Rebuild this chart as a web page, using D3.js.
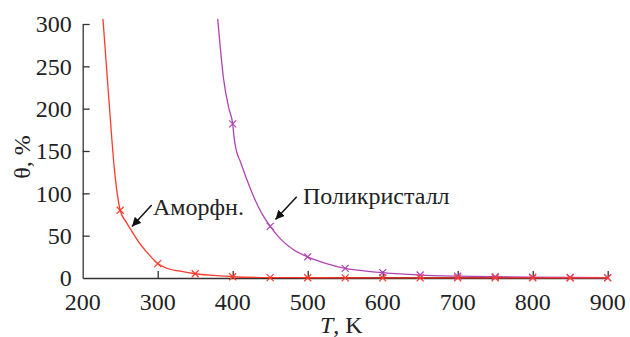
<!DOCTYPE html>
<html><head><meta charset="utf-8">
<script src="https://cdn.jsdelivr.net/npm/d3@7"></script>
</head>
<body style="margin:0;background:#fff"><svg id="c" width="630" height="337"></svg>
<script>
// Tick values
const xTicks = [200,300,400,500,600,700,800,900];
const yTicks = [0,50,100,150,200,250,300];

// Amorphous series: measured markers
const amorphMarkT = [250,300,350,400,450,500,550,600,650,700,750,800,850,900];
const amorphMarkV = [80,17,5,1.5,0.5,0.3,0.2,0.1,0.1,0.1,0.1,0.1,0.1,0.1];
// Amorphous fitted curve
const amorphCurveT = [227,235,242,250,258,265,272,287,300,312,330,350,375,400,450,500,600,700,800,900];
const amorphCurveV = [306,210,131,80,66,56,46,29,17,11.5,8,5,3,1.5,0.5,0.3,0.1,0.1,0.1,0.1];

// Polycrystal series: measured markers
const polyMarkT = [400,450,500,550,600,650,700,750,800,850,900];
const polyMarkV = [182,61,25,11.4,6.3,3.5,2.2,1.5,1,0.6,0.4];
// Polycrystal fitted curve
const polyCurveT = [380,388,395,400,402,405,410,419,428,439,450,465,480,500,525,550,575,600,650,700,750,800,850,900];
const polyCurveV = [306,234,200,182,165,150,138,116,96,76,61,45,34,25,17,11.4,8.5,6.3,3.5,2.2,1.5,1,0.6,0.4];

// Third (black) series near zero
const blackT = [440,900];
const blackV = [0,0];

const labels = [
  {text:"Аморфн.", x:153, y:215, ax1:151.7, ay1:205, ax2:132, ay2:226.5},
  {text:"Поликристалл", x:303, y:204, ax1:296.7, ay1:196.7, ax2:275.5, ay2:219.5}
];

const FONT = "'Liberation Serif'";
const svg = d3.select("#c");
const x = d3.scaleLinear().domain([200,900]).range([82.7,607.7]);
const y = d3.scaleLinear().domain([0,300]).range([278,24]);
const axisColor = "#333";
const fs = 24;

// plain text helper (no anchor/dy/tspan)
function plainText(str, px, py, anchor, italic){
  const t = svg.append("text").attr("x",px).attr("y",py).attr("font-size",fs)
    .attr("fill","#222").attr("font-family",FONT).text(str);
  if(italic) t.attr("font-style","italic");
  const w = t.node().getComputedTextLength();
  if(anchor==="middle") t.attr("x",px-w/2);
  else if(anchor==="end") t.attr("x",px-w);
  return w;
}

// Axes (lines and ticks from d3 axis; labels as plain texts)
const gx = svg.append("g").attr("transform",`translate(0,${y(0)})`)
  .call(d3.axisBottom(x).tickValues(xTicks).tickSize(-7).tickSizeOuter(0).tickFormat(""));
const gy = svg.append("g").attr("transform",`translate(${x(200)},0)`)
  .call(d3.axisLeft(y).tickValues(yTicks).tickSize(-7).tickSizeOuter(0).tickFormat(""));
[gx,gy].forEach(g=>{
  g.select(".domain").attr("stroke",axisColor).attr("stroke-width",1.3);
  g.selectAll(".tick line").attr("stroke",axisColor).attr("stroke-width",1.3);
  g.selectAll(".tick text").remove();
});
gx.selectAll(".tick").filter(d=>d===200).select("line").remove();
gy.selectAll(".tick").filter(d=>d===0).select("line").remove();
const fmt = d3.format("d");
xTicks.forEach(v=>plainText(fmt(v), x(v), 310, "middle"));
yTicks.forEach(v=>plainText(fmt(v), x(200)-11, y(v)+8.2, "end"));

// Black line
const line = d3.line().x(d=>x(d[0])).y(d=>y(d[1]));
svg.append("path").datum(blackT.map((t,i)=>[t,blackV[i]]))
  .attr("d",line).attr("stroke","#222").attr("stroke-width",2).attr("fill","none");

const curve = d3.line().x(d=>x(d[0])).y(d=>y(d[1])).curve(d3.curveMonotoneX);

function series(cT,cV,mT,mV,color){
  svg.append("path").datum(cT.map((t,i)=>[t,cV[i]]))
    .attr("d",curve).attr("stroke",color).attr("stroke-width",1.3).attr("fill","none");
  const s=3.5;
  const g = svg.append("g");
  mT.forEach((t,i)=>{
    const px=x(t), py=y(mV[i]);
    g.append("path").attr("d",`M${px-s},${py-s}L${px+s},${py+s}M${px-s},${py+s}L${px+s},${py-s}`)
      .attr("stroke",color).attr("stroke-width",1.2);
  });
}
series(polyCurveT,polyCurveV,polyMarkT,polyMarkV,"#b244b2");
series(amorphCurveT,amorphCurveV,amorphMarkT,amorphMarkV,"#ff3a2a");

// Annotations
svg.append("defs").append("marker").attr("id","ah").attr("viewBox","0 0 10 10")
  .attr("refX",10).attr("refY",5).attr("markerWidth",9).attr("markerHeight",9)
  .attr("markerUnits","userSpaceOnUse").attr("orient","auto")
  .append("path").attr("d","M0,0L10,5L0,10z").attr("fill","#111");
labels.forEach(l=>{
  svg.append("line").attr("x1",l.ax1).attr("y1",l.ay1).attr("x2",l.ax2).attr("y2",l.ay2)
    .attr("stroke","#111").attr("stroke-width",1.5).attr("marker-end","url(#ah)");
  plainText(l.text, l.x, l.y, "start");
});

// Axis titles
const wT = plainText("T", 320, 333, "start", true);
plainText(", K", 320 + wT, 333, "start");
const yt = svg.append("text").attr("transform","translate(30,157) rotate(-90)").attr("font-family",FONT)
  .attr("x",0).attr("y",0).attr("font-size",fs).attr("fill","#222").text("θ, %");
yt.attr("x", -yt.node().getComputedTextLength()/2);
</script></body></html>
